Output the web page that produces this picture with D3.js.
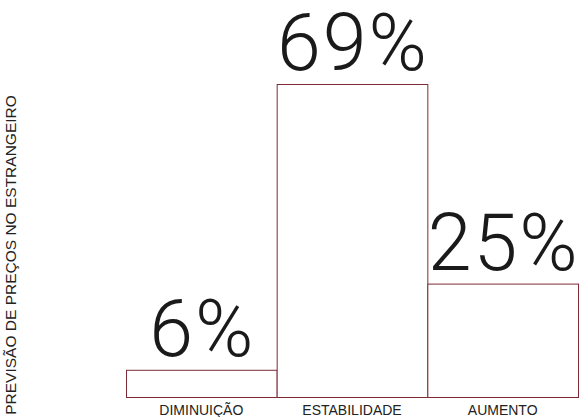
<!DOCTYPE html>
<html>
<head>
<meta charset="utf-8">
<script src="https://cdn.jsdelivr.net/npm/d3@7"></script>
<style>
  html, body { margin: 0; padding: 0; background: #fff; }
  svg { display: block; }
</style>
</head>
<body>
<svg id="chart" width="582" height="417"></svg>
<script>
// Expectations for prices abroad
const categories = ["DIMINUIÇÃO", "ESTABILIDADE", "AUMENTO"];
const values = [6, 69, 25];
const valueLabels = ["6%", "69%", "25%"];
const axisTitle = "PREVISÃO DE PREÇOS NO ESTRANGEIRO";

const svg = d3.select("#chart");
const baseline = 397;

const x = d3.scaleBand()
  .domain(categories)
  .range([126, 578])
  .paddingInner(0)
  .paddingOuter(0);

const y = d3.scaleLinear()
  .domain([0, 69])
  .range([baseline, 84]);

const g = svg.append("g");

g.selectAll("rect.bar")
  .data(values)
  .join("rect")
  .attr("class", "bar")
  .attr("x", (d, i) => x(categories[i]) + 0.5)
  .attr("y", d => y(d) + 0.5)
  .attr("width", x.bandwidth())
  .attr("height", d => baseline - y(d))
  .attr("fill", "#fff")
  .attr("stroke", "#7d2a36")
  .attr("stroke-width", 1);

// Big percentage labels above each bar, light weight
g.selectAll("text.value")
  .data(values)
  .join("text")
  .attr("class", "value")
  .attr("x", (d, i) => x(categories[i]) + x.bandwidth() / 2 + 1)
  .attr("y", d => y(d) - 14)
  .attr("text-anchor", "middle")
  .attr("font-family", "Roboto, 'Liberation Sans', sans-serif")
  .attr("font-weight", 300)
  .attr("font-size", 79)
  .attr("letter-spacing", 2)
  .attr("fill", "#1a1a1a")
  .text((d, i) => valueLabels[i]);

// Category axis labels
const xAxis = d3.axisBottom(x).tickSize(0).tickPadding(0);
const ax = svg.append("g")
  .attr("transform", `translate(0, ${baseline + 18})`)
  .call(xAxis);
ax.select(".domain").remove();
ax.selectAll("text")
  .attr("dy", 0)
  .attr("font-family", "'Liberation Sans', Arial, sans-serif")
  .attr("font-size", 14)
  .attr("fill", "#222");

svg.append("text")
  .attr("transform", "translate(15.5, 255) rotate(-90)")
  .attr("text-anchor", "middle")
  .attr("font-family", "'Liberation Sans', Arial, sans-serif")
  .attr("font-size", 15.5)
  .attr("fill", "#222")
  .text(axisTitle);
</script>
</body>
</html>
